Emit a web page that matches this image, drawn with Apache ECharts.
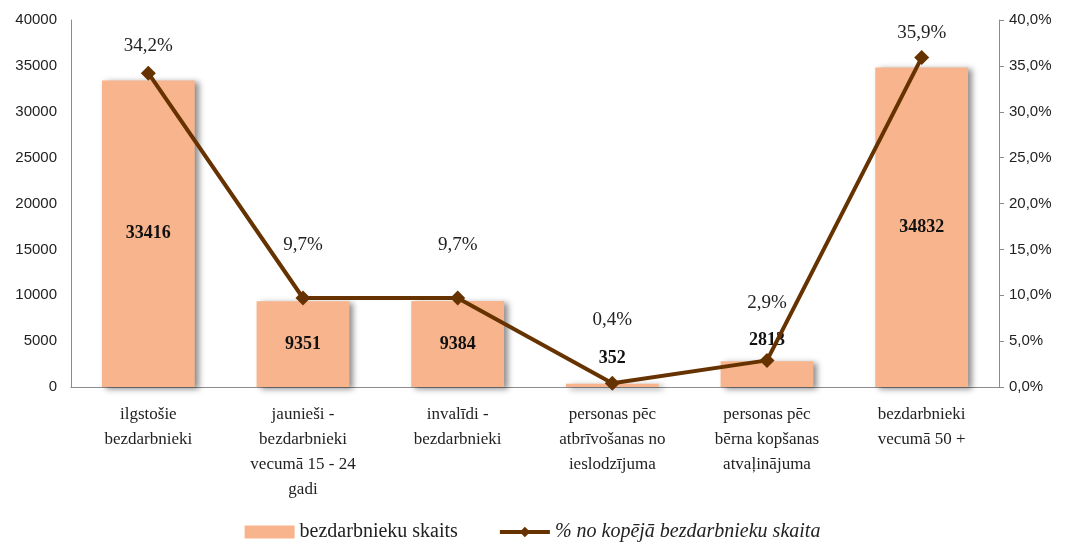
<!DOCTYPE html>
<html>
<head>
<meta charset="utf-8">
<script src="https://cdn.jsdelivr.net/npm/echarts@6/dist/echarts.min.js"></script>
<style>
  html, body { margin: 0; padding: 0; background: #fff; }
  #chart { width: 1065px; height: 547px; }
</style>
</head>
<body>
<div id="chart"></div>
<script>
const categories = [
  'ilgstošie\nbezdarbnieki',
  'jaunieši -\nbezdarbnieki\nvecumā 15 - 24\ngadi',
  'invalīdi -\nbezdarbnieki',
  'personas pēc\natbrīvošanas no\nieslodzījuma',
  'personas pēc\nbērna kopšanas\natvaļinājuma',
  'bezdarbnieki\nvecumā 50 +'
];
const counts = [33416, 9351, 9384, 352, 2813, 34832];
const shares = [34.2, 9.7, 9.7, 0.4, 2.9, 35.9];
// where the labels sit (small bars get the number on top)
const countLabelPos = ['inside', 'inside', 'inside', 'top', 'top', 'inside'];
const countLabelLift = [0, 0, 0, 16, 12, 0];
const shareLabelLift = [10, 36, 36, 46, 40, 8];

const serif = '"Liberation Serif", "Times New Roman", serif';
const sans = '"Liberation Sans Narrow", "Liberation Sans", sans-serif';

const chart = echarts.init(document.getElementById('chart'));
const option = {
  animation: false,
  grid: { left: 71, right: 66, top: 20, bottom: 160 },
  legend: {
    bottom: 0,
    left: 'center',
    itemGap: 40,
    itemWidth: 50,
    itemHeight: 13,
    textStyle: { fontFamily: serif, fontSize: 20, color: '#222' },
    data: [
      { name: 'bezdarbnieku skaits', icon: 'rect' },
      {
        name: '% no kopējā bezdarbnieku skaita',
        textStyle: { fontStyle: 'italic' },
        lineStyle: { width: 4, color: '#663300' }
      }
    ]
  },
  xAxis: {
    type: 'category',
    data: categories,
    axisLine: { lineStyle: { color: '#8c8c8c' } },
    axisTick: { show: false },
    axisLabel: {
      interval: 0,
      margin: 15,
      fontFamily: serif,
      fontSize: 17,
      lineHeight: 25,
      color: '#222'
    }
  },
  yAxis: [
    {
      type: 'value',
      min: 0,
      max: 40000,
      interval: 5000,
      axisLine: { show: true, lineStyle: { color: '#8c8c8c' } },
      axisTick: { show: false },
      splitLine: { show: false },
      axisLabel: {
        fontFamily: sans,
        fontSize: 15,
        color: '#222',
        margin: 14,
        formatter: v => String(v)
      }
    },
    {
      type: 'value',
      min: 0,
      max: 40,
      interval: 5,
      position: 'right',
      axisLine: { show: true, lineStyle: { color: '#8c8c8c' } },
      axisTick: { show: true, length: 5, inside: false, lineStyle: { color: '#8c8c8c' } },
      splitLine: { show: false },
      axisLabel: {
        fontFamily: sans,
        fontSize: 15,
        color: '#222',
        margin: 10,
        formatter: v => v.toFixed(1).replace('.', ',') + '%'
      }
    }
  ],
  series: [
    {
      name: 'bezdarbnieku skaits',
      type: 'bar',
      barWidth: '60%',
      data: counts.map((v, i) => ({
        value: v,
        label: { position: countLabelPos[i], distance: countLabelLift[i] }
      })),
      itemStyle: {
        color: '#F8B48C',
        shadowColor: 'rgba(0,0,0,0.45)',
        shadowBlur: 6,
        shadowOffsetX: 4,
        shadowOffsetY: 2
      },
      label: {
        show: true,
        fontFamily: serif,
        fontSize: 18,
        fontWeight: 'bold',
        color: '#111'
      }
    },
    {
      name: '% no kopējā bezdarbnieku skaita',
      type: 'line',
      yAxisIndex: 1,
      z: 3,
      data: shares.map((v, i) => ({
        value: v,
        label: { distance: shareLabelLift[i] }
      })),
      symbol: 'diamond',
      symbolSize: 15,
      lineStyle: { color: '#663300', width: 4 },
      itemStyle: { color: '#663300' },
      label: {
        show: true,
        position: 'top',
        fontFamily: serif,
        fontSize: 19,
        color: '#222',
        formatter: p => p.value.toFixed(1).replace('.', ',') + '%'
      }
    }
  ]
};
chart.setOption(option);
</script>
</body>
</html>
